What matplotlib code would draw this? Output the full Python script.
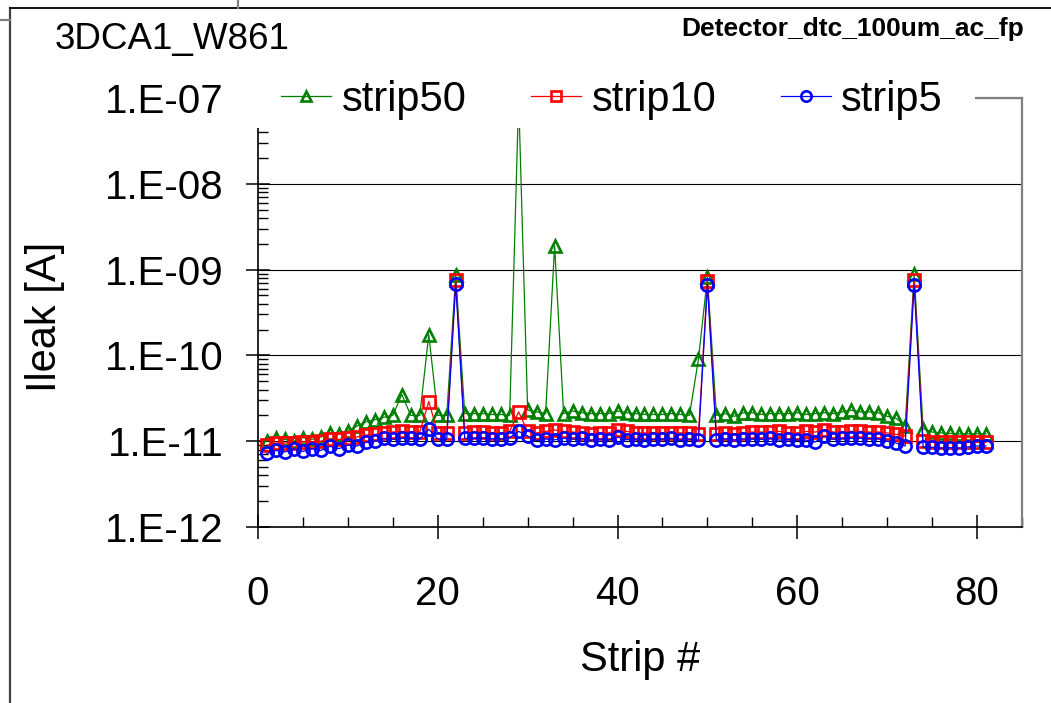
#!/usr/bin/env python
# -*- coding: utf-8 -*-

import numpy as np
import matplotlib
matplotlib.use('Agg')
import matplotlib.pyplot as plt
from matplotlib.lines import Line2D
from matplotlib.patches import Rectangle
from matplotlib.ticker import LogLocator, MultipleLocator, FuncFormatter, NullFormatter

plt.rcParams['font.family'] = ['Liberation Sans', 'DejaVu Sans']

W, H = 1051, 703

# leakage current per strip, in pA
strips = list(range(1, 82))

strip50_pA = [10.0, 11.0, 10.5, 10.0, 11.0, 10.5, 11.2, 12.5, 12.2, 13.2,
              15.0, 16.8, 17.8, 19.0, 20.0, 35.0, 20.0, 20.0, 175.0, 20.0,
              20.0, 870.0, 21.0, 21.0, 21.0, 20.5, 20.5, 20.0, 100000.0, 23.0,
              22.0, 21.0, 1900.0, 21.0, 22.5, 21.5, 21.0, 21.0, 21.0, 22.5,
              21.5, 21.0, 20.5, 20.5, 20.5, 21.0, 20.5, 20.0, 90.0, 820.0,
              20.0, 21.0, 19.5, 21.5, 21.5, 20.5, 21.0, 21.0, 21.0, 21.5,
              20.5, 21.0, 21.5, 21.0, 22.0, 23.0, 22.0, 22.0, 21.5, 19.5,
              18.5, 15.0, 880.0, 14.0, 12.8, 12.5, 12.3, 12.2, 12.2, 12.2,
              12.2]

strip10_pA = [9.0, 9.5, 9.5, 9.6, 9.8, 9.8, 10.0, 10.5, 10.5, 10.8,
              11.2, 11.8, 12.0, 12.5, 12.8, 13.0, 12.8, 12.8, 29.0, 12.5,
              12.5, 760.0, 12.5, 12.8, 12.8, 12.5, 12.5, 13.0, 22.0, 13.0,
              12.5, 13.0, 13.5, 13.0, 12.8, 12.5, 12.2, 12.5, 12.5, 13.5,
              13.0, 12.5, 12.5, 12.5, 12.5, 12.5, 12.5, 12.5, 12.0, 740.0,
              12.2, 12.5, 12.2, 12.5, 12.8, 12.8, 12.8, 13.0, 12.5, 12.5,
              13.0, 12.8, 13.5, 12.8, 12.8, 13.0, 13.0, 12.8, 12.8, 12.5,
              12.0, 11.5, 760.0, 10.0, 9.8, 9.7, 9.7, 9.7, 9.7, 9.7,
              9.7]

strip5_pA = [7.2, 7.8, 7.5, 8.2, 7.6, 8.2, 7.8, 8.7, 8.2, 9.0,
             8.8, 9.7, 10.0, 10.8, 10.5, 10.8, 10.8, 10.6, 13.8, 10.6,
             10.6, 680.0, 10.8, 10.8, 10.8, 10.7, 10.6, 11.0, 13.0, 11.5,
             10.2, 10.6, 10.4, 10.8, 10.6, 10.8, 10.2, 10.6, 10.3, 11.2,
             10.4, 10.6, 10.2, 10.5, 10.6, 10.8, 10.2, 10.5, 10.2, 660.0,
             10.3, 10.6, 10.3, 10.6, 10.6, 10.5, 10.8, 10.3, 10.5, 10.3,
             10.3, 9.8, 11.5, 10.5, 10.8, 10.8, 10.8, 10.7, 10.7, 10.0,
             9.5, 8.8, 660.0, 8.5, 8.5, 8.3, 8.4, 8.3, 8.6, 8.8,
             8.8]

series = [
    ('strip50', strip50_pA, '#008000', '^'),
    ('strip10', strip10_pA, '#ff0000', 's'),
    ('strip5', strip5_pA, '#0000ff', 'o'),
]


def decade_label(v, pos):
    return '1.E-%02d' % int(round(-np.log10(v)))


def fit_pad(fig, ax, axis, pad, target):
    # shift tick labels so their inner edge lands on a given pixel
    fig.canvas.draw()
    r = fig.canvas.get_renderer()
    if axis == 'y':
        edge = max(t.get_window_extent(r).x1 for t in ax.get_yticklabels() if t.get_text())
        shift = edge - target
    else:
        edge = max(t.get_window_extent(r).y1 for t in ax.get_xticklabels() if t.get_text())
        shift = edge - (H - target)
    ax.tick_params(axis=axis, which='major', pad=pad + shift * 72. / fig.dpi)


def main():
    fig = plt.figure(figsize=(W / 100., H / 100.), dpi=100)
    ax = fig.add_axes([258. / W, 1 - 527. / H, (1022. - 258.) / W, (527. - 98.) / H])

    for i, (name, vals, col, mk) in enumerate(series):
        ax.plot(strips, np.array(vals) * 1e-12, color=col, lw=0.9, marker=mk,
                markersize=8.8, markerfacecolor='none', markeredgecolor=col,
                markeredgewidth=1.9, label=name, zorder=3 + i)

    ax.set_yscale('log')
    ax.set_ylim(1e-12, 1e-7)
    ax.set_xlim(0, 85)

    ax.yaxis.set_major_locator(LogLocator(base=10, numticks=10))
    ax.yaxis.set_minor_locator(LogLocator(base=10, subs=np.arange(2, 10), numticks=10))
    ax.yaxis.set_major_formatter(FuncFormatter(decade_label))
    ax.yaxis.set_minor_formatter(NullFormatter())
    ax.xaxis.set_major_locator(MultipleLocator(20))
    ax.xaxis.set_minor_locator(MultipleLocator(5))

    ax.grid(axis='y', which='major', color='black', lw=0.8, zorder=1)
    ax.set_axisbelow(True)

    ax.tick_params(which='major', direction='inout', length=17, width=1.1,
                   labelsize=29, color='black', pad=15)
    ax.tick_params(which='minor', direction='in', length=7, width=1.0)

    for s in ('left', 'bottom'):
        ax.spines[s].set_color('black')
        ax.spines[s].set_linewidth(1.2)
    for s in ('top', 'right'):
        ax.spines[s].set_color('#808080')
        ax.spines[s].set_linewidth(1.6)

    fig.text(45. / W, 1 - 317. / H, 'Ileak [A]', rotation=90, fontsize=30,
             ha='center', va='center')
    fig.text(640. / W, 1 - 660. / H, 'Strip #', fontsize=30,
             ha='center', va='center')
    fig.text(55. / W, 1 - 40. / H, '3DCA1_W861', fontsize=26.5,
             ha='left', va='center')
    fig.text(1024. / W, 1 - 29. / H, 'Detector_dtc_100um_ac_fp', fontsize=19,
             fontweight='bold', ha='right', va='center')

    # white block behind the legend hides the top of the plot area
    fig.add_artist(Rectangle((245. / W, 1 - 128. / H), (975. - 245.) / W, 50. / H,
                             facecolor='white', edgecolor='none', zorder=4,
                             transform=fig.transFigure))
    leg = fig.legend(loc='center', bbox_to_anchor=(612. / W, 1 - 100. / H),
                     ncol=3, fontsize=30, handlelength=1.2, handletextpad=0.25,
                     columnspacing=1.55, borderpad=0.1, frameon=False,
                     markerscale=0.85)
    leg.set_zorder(5)

    # border of the chart object
    fig.add_artist(Line2D([10. / W, 10. / W], [1 - 8. / H, 0], color='#404040',
                          lw=1.6, transform=fig.transFigure))
    fig.add_artist(Line2D([10. / W, 1], [1 - 8. / H, 1 - 8. / H], color='black',
                          lw=1.3, transform=fig.transFigure))
    fig.add_artist(Line2D([0, 10. / W], [1 - 20. / H, 1 - 20. / H], color='#808080',
                          lw=1.6, transform=fig.transFigure))
    fig.add_artist(Line2D([238. / W, 238. / W], [1, 1 - 8. / H], color='#808080',
                          lw=1.6, transform=fig.transFigure))

    fit_pad(fig, ax, 'y', 15, 224.)
    fit_pad(fig, ax, 'x', 15, 575.)

    fig.savefig('out.png', dpi=100)


if __name__ == '__main__':
    main()
